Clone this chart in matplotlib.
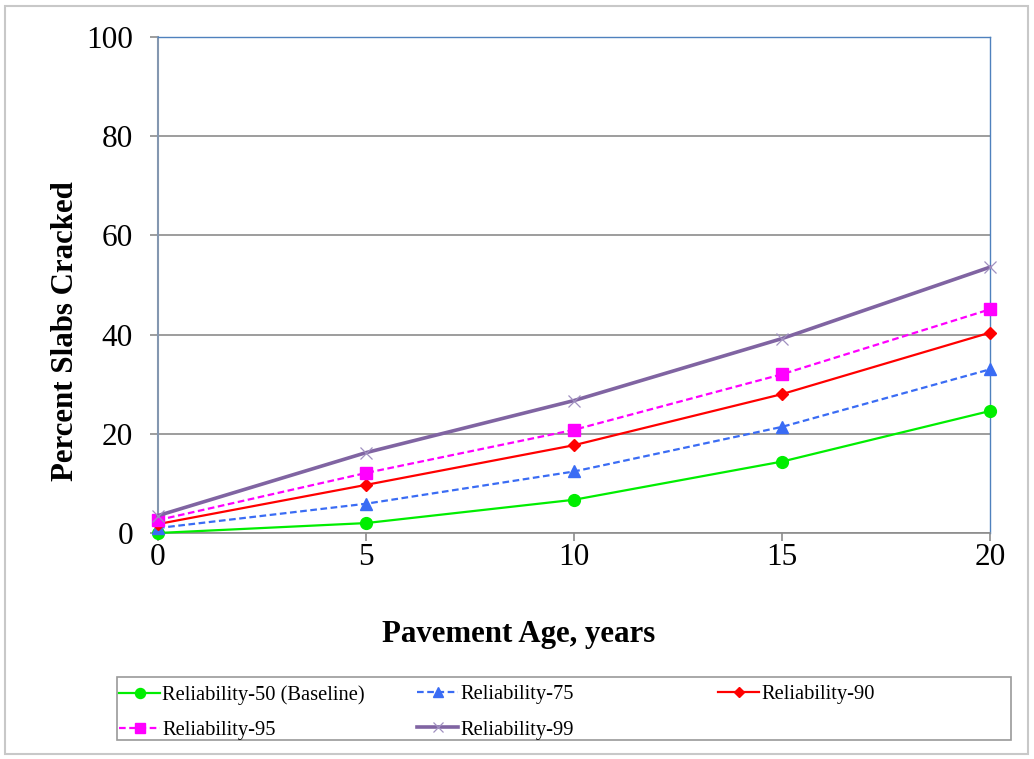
import matplotlib
matplotlib.use("Agg")
import matplotlib.pyplot as plt
from matplotlib.patches import Rectangle

plt.rcParams['font.family'] = ['Liberation Serif', 'DejaVu Serif']

years = [0, 5, 10, 15, 20]
r50 = [0.0, 2.0, 6.7, 14.4, 24.6]
r75 = [1.0, 5.9, 12.4, 21.4, 33.0]
r90 = [1.8, 9.7, 17.7, 28.0, 40.4]
r95 = [2.6, 12.1, 20.8, 32.0, 45.1]
r99 = [3.5, 16.2, 26.7, 39.2, 53.6]
labels = ["Reliability-50 (Baseline)", "Reliability-75", "Reliability-90",
          "Reliability-95", "Reliability-99"]
xticks = [0, 5, 10, 15, 20]
yticks = [0, 20, 40, 60, 80, 100]

W, H = 1034, 759
fig = plt.figure(figsize=(W / 100, H / 100), dpi=100)
ax = fig.add_axes([158 / W, 1 - 533 / H, (990 - 158) / W, (533 - 37) / H])

grid_c = '#8c8c8c'
h50, = ax.plot(years, r50, color='#00ee00', lw=1.6, marker='o', ms=8.5,
               label=labels[0], zorder=3, clip_on=False)
h75, = ax.plot(years, r75, color='#3a6cf4', lw=1.6, ls=(0, (3, 1.6)), marker='^',
               ms=8, label=labels[1], zorder=3, clip_on=False)
h90, = ax.plot(years, r90, color='#ff0000', lw=1.6, marker='D', ms=6.5,
               label=labels[2], zorder=3, clip_on=False)
h95, = ax.plot(years, r95, color='#ff00ff', lw=1.6, ls=(0, (3, 1.6)), marker='s',
               ms=8, label=labels[3], zorder=3, clip_on=False)
h99, = ax.plot(years, r99, color='#8064a2', lw=2.6, marker='x', ms=8, mew=0.9,
               mec='#a090c0', label=labels[4], zorder=3, clip_on=False)

ax.set_xlim(0, 20)
ax.set_ylim(0, 100)
ax.set_xticks(xticks)
ax.set_yticks(yticks)
ax.tick_params(axis='both', labelsize=22.5, colors=grid_c, labelcolor='black',
               length=6, width=1.2, direction='out')
ax.tick_params(axis='x', pad=1)
ax.tick_params(axis='y', pad=12)
ax.yaxis.grid(True, color=grid_c, lw=1.2)
ax.set_axisbelow(True)

ax.spines['left'].set_color('#8497b0')
ax.spines['left'].set_linewidth(1.5)
ax.spines['bottom'].set_color(grid_c)
ax.spines['bottom'].set_linewidth(1.2)
ax.spines['top'].set_color('#4f81bd')
ax.spines['top'].set_linewidth(1.0)
ax.spines['right'].set_color('#4f81bd')
ax.spines['right'].set_linewidth(1.0)

ax.set_xlabel("Pavement Age, years", fontsize=22.2, fontweight='bold')
ax.set_ylabel("Percent Slabs Cracked", fontsize=22.2, fontweight='bold')
ax.xaxis.set_label_coords(0.433, -0.176)
ax.yaxis.set_label_coords(-0.094, 0.407)

# legend box
fig.patches.append(Rectangle((117 / W, 1 - 740 / H), (1011 - 117) / W, (740 - 677) / H,
                             transform=fig.transFigure, fill=False,
                             edgecolor='#9a9a9a', lw=1.2))
# outer border
fig.patches.append(Rectangle((5 / W, 1 - 754 / H), (1028 - 5) / W, (754 - 6) / H,
                             transform=fig.transFigure, fill=False,
                             edgecolor='#c8c8c8', lw=1.5))

cols = [([h50, h95], 115), ([h75, h99], 413), ([h90], 714)]
for handles, xpix in cols:
    fig.legend(handles=handles, labels=[h.get_label() for h in handles],
               loc='upper left', bbox_to_anchor=(xpix / W, 1 - 681 / H),
               frameon=False, fontsize=14.8, handlelength=2.0, handletextpad=0.1,
               labelspacing=0.76, borderpad=0.2, borderaxespad=0, markerscale=0.85)

fig.savefig("out.png", dpi=100)
